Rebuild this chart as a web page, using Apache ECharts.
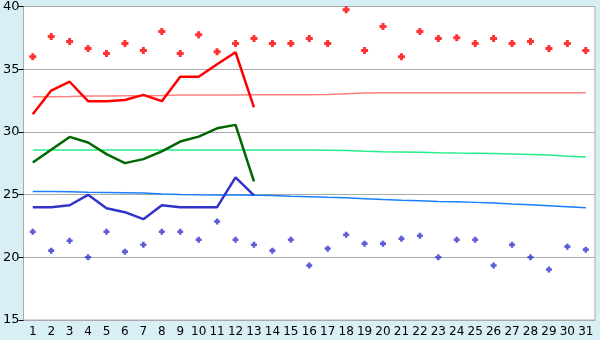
<!DOCTYPE html>
<html>
<head>
<meta charset="utf-8">
<script src="https://cdn.jsdelivr.net/npm/echarts@6/dist/echarts.min.js"></script>
<style>
html,body{margin:0;padding:0;background:#d9eff6;}
#c{width:600px;height:340px;}
</style>
</head>
<body>
<div id="c"></div>
<script>
var days = ['1','2','3','4','5','6','7','8','9','10','11','12','13','14','15','16','17','18','19','20','21','22','23','24','25','26','27','28','29','30','31'];
var yTicks = [15, 20, 25, 30, 35, 40];

var redMarks = [36.0,37.6,37.2,36.65,36.25,37.05,36.5,38.0,36.25,37.75,36.4,37.05,37.45,37.05,37.05,37.45,37.05,39.75,36.5,38.4,36.0,38.0,37.45,37.5,37.05,37.45,37.05,37.2,36.65,37.05,36.5];
var redLine = [31.4,33.3,34.0,32.45,32.45,32.55,32.95,32.45,34.4,34.4,35.4,36.35,31.95,null,null,null,null,null,null,null,null,null,null,null,null,null,null,null,null,null,null];
var redNormal = [32.8,32.8,32.82,32.86,32.87,32.88,32.88,32.9,32.94,32.95,32.95,32.95,32.96,32.96,32.96,32.97,32.98,33.05,33.1,33.12,33.12,33.12,33.12,33.12,33.12,33.12,33.12,33.12,33.12,33.12,33.12];

var greenLine = [27.56,28.57,29.6,29.15,28.23,27.51,27.83,28.44,29.23,29.62,30.29,30.56,26.06,null,null,null,null,null,null,null,null,null,null,null,null,null,null,null,null,null,null];
var greenNormal = [28.55,28.55,28.55,28.55,28.55,28.55,28.55,28.55,28.55,28.55,28.55,28.55,28.55,28.55,28.55,28.55,28.54,28.52,28.46,28.42,28.4,28.38,28.34,28.31,28.3,28.28,28.24,28.2,28.15,28.06,28.0];

var blueLine = [24.0,24.0,24.15,24.98,23.91,23.6,23.04,24.15,24.0,24.0,24.0,26.38,24.94,null,null,null,null,null,null,null,null,null,null,null,null,null,null,null,null,null,null];
var blueNormal = [25.25,25.24,25.22,25.18,25.16,25.14,25.12,25.05,25.0,24.98,24.97,24.96,24.95,24.92,24.86,24.83,24.78,24.74,24.67,24.6,24.54,24.5,24.45,24.42,24.38,24.34,24.26,24.2,24.12,24.04,23.95];
var blueMarks = [22.04,20.53,21.32,20.0,22.04,20.45,21.0,22.04,22.04,21.4,22.86,21.4,21.0,20.53,21.4,19.34,20.69,21.8,21.09,21.09,21.48,21.72,20.0,21.4,21.4,19.34,21.0,20.0,19.02,20.85,20.61];

var plus = 'path://M2,0L5,0L5,2L7,2L7,5L5,5L5,7L2,7L2,5L0,5L0,2L2,2Z';

var chart = echarts.init(document.getElementById('c'), null, {renderer:'canvas'});
chart.setOption({
  animation: false,
  backgroundColor: '#d9eff6',
  grid: {left: 20, right: 5, top: 5, bottom: 20, show: true, backgroundColor: '#ffffff', borderColor: '#aaaaaa', borderWidth: 1},
  xAxis: {
    type: 'category', data: days, boundaryGap: true,
    axisLine: {lineStyle: {color: '#aaaaaa', width: 1}},
    axisTick: {alignWithLabel: true, length: 5, lineStyle: {color: '#000000'}},
    axisLabel: {color: '#000000', fontFamily: 'DejaVu Sans', fontSize: 12, margin: 6, interval: 0},
    splitLine: {show: false}
  },
  yAxis: {
    type: 'value', min: yTicks[0], max: yTicks[yTicks.length-1], interval: 5,
    axisLine: {show: true, lineStyle: {color: '#aaaaaa', width: 1}},
    axisTick: {show: true, length: 5, lineStyle: {color: '#000000'}},
    axisLabel: {color: '#000000', fontFamily: 'DejaVu Sans', fontSize: 13, margin: 4},
    splitLine: {show: true, lineStyle: {color: '#aaaaaa', width: 1}}
  },
  series: [
    {type: 'line', data: redNormal, symbol: 'none', lineStyle: {color: '#ff8080', width: 1.5}, z: 2},
    {type: 'line', data: greenNormal, symbol: 'none', lineStyle: {color: '#22ee88', width: 1.5}, z: 2},
    {type: 'line', data: blueNormal, symbol: 'none', lineStyle: {color: '#1a7fff', width: 1.5}, z: 2},
    {type: 'line', data: redLine, symbol: 'none', connectNulls: false, lineStyle: {color: '#ff0000', width: 2.5}, z: 3},
    {type: 'line', data: greenLine, symbol: 'none', connectNulls: false, lineStyle: {color: '#006600', width: 2.5}, z: 3},
    {type: 'line', data: blueLine, symbol: 'none', connectNulls: false, lineStyle: {color: '#3333cc', width: 2.5}, z: 3},
    {type: 'scatter', data: redMarks, symbol: plus, symbolSize: 7, itemStyle: {color: '#ff0000'}, z: 4},
    {type: 'scatter', data: blueMarks, symbol: plus, symbolSize: 6, itemStyle: {color: '#3333cc'}, z: 4}
  ]
});
</script>
</body>
</html>
